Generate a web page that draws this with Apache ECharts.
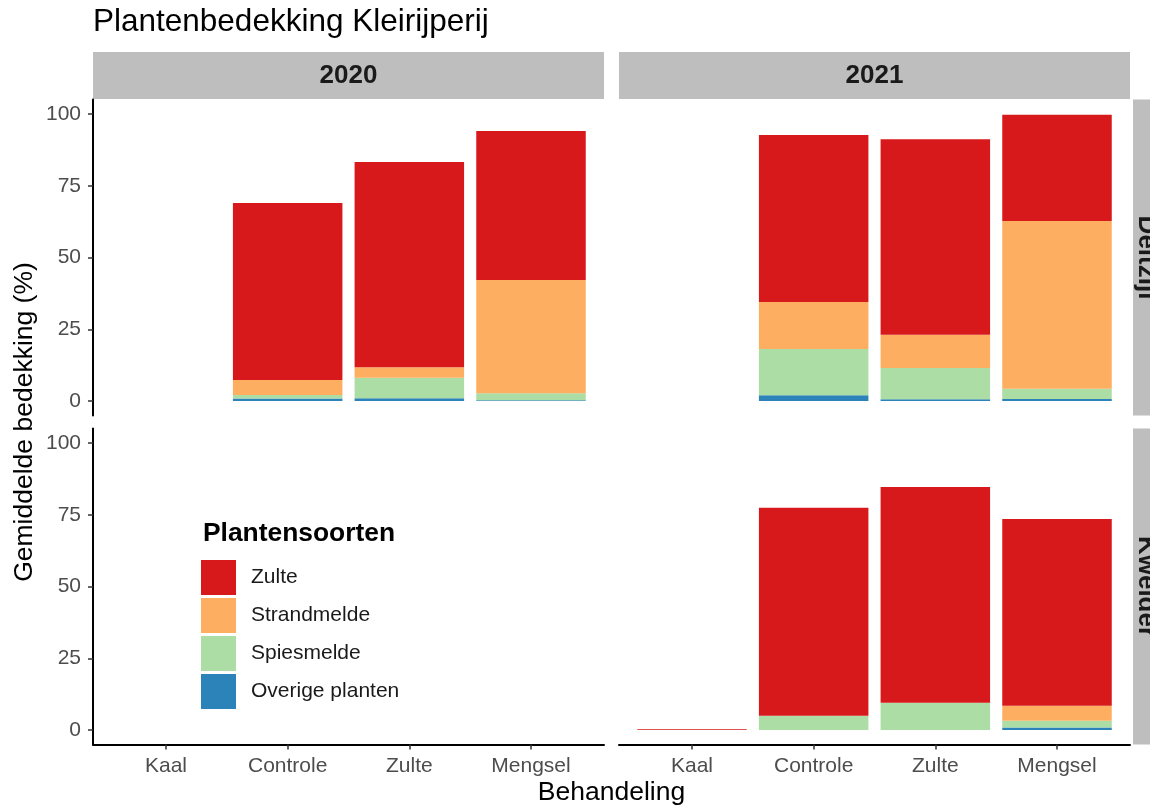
<!DOCTYPE html>
<html>
<head>
<meta charset="utf-8">
<script src="https://cdn.jsdelivr.net/npm/echarts@6/dist/echarts.min.js"></script>
<style>
  html, body { margin: 0; padding: 0; background: #fff; }
  #chart { width: 1150px; height: 807px; }
</style>
</head>
<body>
<div id="chart"></div>
<script>
// Behandelingen (x-as) en facetten
const categories = ['Kaal', 'Controle', 'Zulte', 'Mengsel'];
const years = ['2020', '2021'];
const locations = ['Deltzijl', 'Kwelder'];
const yTicks = [0, 25, 50, 75, 100];

// Soorten, van boven naar onder in de legenda
const species = ['Zulte', 'Strandmelde', 'Spiesmelde', 'Overige planten'];
const speciesColors = ['#D7191C', '#FDAE61', '#ABDDA4', '#2B83BA'];

// Gemiddelde bedekking (%) per behandeling: Deltzijl 2020
const deltzijl2020Zulte       = [null, 61.7, 71.5, 51.9];
const deltzijl2020Strandmelde = [null, 5.2, 3.7, 39.5];
const deltzijl2020Spiesmelde  = [null, 1.2, 7.1, 2.4];
const deltzijl2020Overige     = [null, 0.9, 1.0, 0.3];

// Deltzijl 2021
const deltzijl2021Zulte       = [null, 58.2, 68.1, 37.0];
const deltzijl2021Strandmelde = [null, 16.4, 11.6, 58.4];
const deltzijl2021Spiesmelde  = [null, 16.1, 10.9, 3.6];
const deltzijl2021Overige     = [null, 2.0, 0.6, 0.7];

// Kwelder 2020 (geen metingen)
const kwelder2020Zulte       = [null, null, null, null];
const kwelder2020Strandmelde = [null, null, null, null];
const kwelder2020Spiesmelde  = [null, null, null, null];
const kwelder2020Overige     = [null, null, null, null];

// Kwelder 2021
const kwelder2021Zulte       = [0.3, 72.4, 75.2, 65.0];
const kwelder2021Strandmelde = [null, null, null, 5.3];
const kwelder2021Spiesmelde  = [null, 5.0, 9.5, 2.3];
const kwelder2021Overige     = [null, null, null, 0.9];

// panels: row = location, col = year; values ordered as `species`
const panels = [
  { row: 0, col: 0, values: [deltzijl2020Zulte, deltzijl2020Strandmelde, deltzijl2020Spiesmelde, deltzijl2020Overige] },
  { row: 0, col: 1, values: [deltzijl2021Zulte, deltzijl2021Strandmelde, deltzijl2021Spiesmelde, deltzijl2021Overige] },
  { row: 1, col: 0, values: [kwelder2020Zulte, kwelder2020Strandmelde, kwelder2020Spiesmelde, kwelder2020Overige] },
  { row: 1, col: 1, values: [kwelder2021Zulte, kwelder2021Strandmelde, kwelder2021Spiesmelde, kwelder2021Overige] }
];

// layout: each panel spans 0.4..4.6 category units (0.6 padding on both sides)
const FONT = 'Liberation Sans, Arial, Helvetica, sans-serif';
const colLeft = [93, 619];
const colWidth = 511;
const rowTop = [99.6, 428.6];
const rowHeight = 315.8;
const xMin = 0.4, xMax = 4.6;
const unit = colWidth / (xMax - xMin);
const innerLeftPad = (1 - 0.5 - xMin) * unit; // from panel edge to start of first band
const yMin = -5, yMax = 105;

const grids = [], xAxes = [], yAxes = [], series = [];

panels.forEach((p, i) => {
  const showX = p.row === 1;
  const showY = p.col === 0;

  // frame grid: axis lines, ticks and labels
  const frame = grids.length;
  grids.push({ left: colLeft[p.col], top: rowTop[p.row], width: colWidth, height: rowHeight });
  xAxes.push({
    type: 'value', gridIndex: frame, min: xMin, max: xMax,
    splitLine: { show: false },
    axisLine: { show: showX, onZero: false, lineStyle: { color: '#000', width: 2 } },
    axisTick: { show: showX, customValues: [1, 2, 3, 4], length: 5, lineStyle: { color: '#333', width: 1.5 } },
    axisLabel: {
      show: showX, customValues: [1, 2, 3, 4], margin: 11,
      formatter: v => categories[Math.round(v) - 1] || '',
      color: '#4D4D4D', fontSize: 21, fontFamily: FONT
    }
  });
  yAxes.push({
    type: 'value', gridIndex: frame, min: yMin, max: yMax,
    splitLine: { show: false },
    axisLine: { show: showY, onZero: false, lineStyle: { color: '#000', width: 2 } },
    axisTick: { show: showY, customValues: yTicks, length: 5, lineStyle: { color: '#333', width: 1.5 } },
    axisLabel: { show: showY, customValues: yTicks, margin: 12, color: '#4D4D4D', fontSize: 21, fontFamily: FONT }
  });

  // bar grid: one band per category
  const bars = grids.length;
  grids.push({ left: colLeft[p.col] + innerLeftPad, top: rowTop[p.row], width: categories.length * unit, height: rowHeight });
  xAxes.push({ type: 'category', gridIndex: bars, data: categories, show: false });
  yAxes.push({ type: 'value', gridIndex: bars, min: yMin, max: yMax, show: false });

  // stack from the bottom: Overige, Spiesmelde, Strandmelde, Zulte
  for (let s = species.length - 1; s >= 0; s--) {
    series.push({
      type: 'bar',
      name: species[s],
      xAxisIndex: bars, yAxisIndex: bars,
      stack: 'panel' + i,
      barWidth: '90%',
      itemStyle: { color: speciesColors[s] },
      emphasis: { disabled: true },
      data: p.values[s]
    });
  }
});

// facet strips
const STRIP = '#BEBEBE';
const graphics = [];
years.forEach((y, c) => {
  graphics.push({ type: 'rect', shape: { x: colLeft[c], y: 52, width: colWidth, height: 47 }, style: { fill: STRIP }, silent: true });
  graphics.push({ type: 'text', x: colLeft[c] + colWidth / 2, y: 76,
    style: { text: y, fill: '#1A1A1A', font: 'bold 26px ' + FONT, align: 'center', verticalAlign: 'middle' }, silent: true });
});
locations.forEach((l, r) => {
  graphics.push({ type: 'rect', shape: { x: 1133, y: rowTop[r], width: 40, height: rowHeight }, style: { fill: STRIP }, silent: true });
  graphics.push({ type: 'text', x: 1146, y: rowTop[r] + rowHeight / 2, rotation: -Math.PI / 2,
    style: { text: l, fill: '#1A1A1A', font: 'bold 26px ' + FONT, align: 'center', verticalAlign: 'middle' }, silent: true });
});
// title, axis titles, legend title
graphics.push({ type: 'text', x: 93, y: 22,
  style: { text: 'Plantenbedekking Kleirijperij', fill: '#000', font: '31.5px ' + FONT, align: 'left', verticalAlign: 'middle' }, silent: true });
graphics.push({ type: 'text', x: 25, y: 422, rotation: Math.PI / 2,
  style: { text: 'Gemiddelde bedekking (%)', fill: '#000', font: '26.5px ' + FONT, align: 'center', verticalAlign: 'middle' }, silent: true });
graphics.push({ type: 'text', x: 611.5, y: 793,
  style: { text: 'Behandeling', fill: '#000', font: '26.5px ' + FONT, align: 'center', verticalAlign: 'middle' }, silent: true });
graphics.push({ type: 'text', x: 203, y: 534,
  style: { text: 'Plantensoorten', fill: '#000', font: 'bold 26.4px ' + FONT, align: 'left', verticalAlign: 'middle' }, silent: true });

const chart = echarts.init(document.getElementById('chart'), null, { renderer: 'canvas' });
chart.setOption({
  animation: false,
  backgroundColor: '#fff',
  grid: grids,
  xAxis: xAxes,
  yAxis: yAxes,
  legend: {
    data: species,
    orient: 'vertical',
    left: 201, top: 560,
    padding: 0,
    itemWidth: 35, itemHeight: 35, itemGap: 3,
    icon: 'rect',
    selectedMode: false,
    textStyle: { fontSize: 21, color: '#1A1A1A', fontFamily: FONT, padding: [0, 0, 0, 10] }
  },
  series: series,
  graphic: graphics
});
</script>
</body>
</html>
